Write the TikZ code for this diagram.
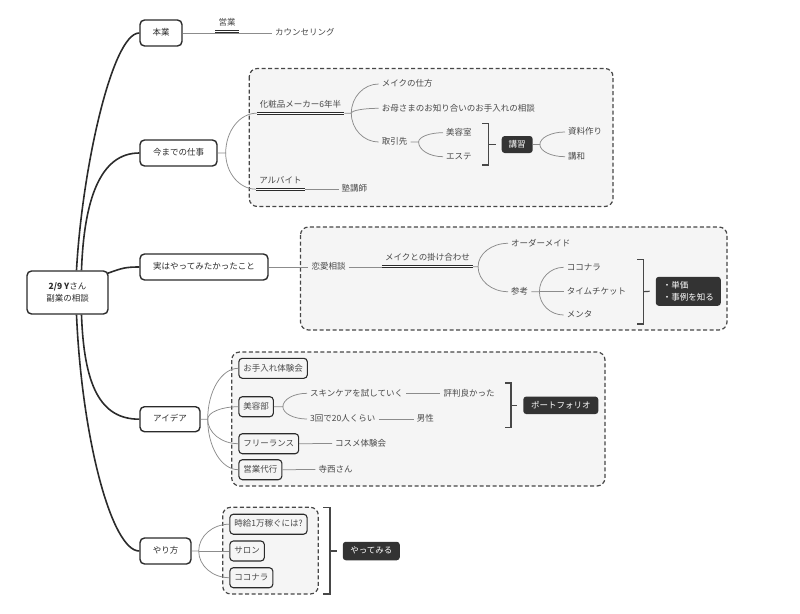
\documentclass[tikz,border=0pt]{standalone}
\usepackage{fontspec}
\newfontfamily\cjk{Noto Sans CJK JP}
\usetikzlibrary{calc}
\definecolor{tcol}{HTML}{2B2B2B}
\definecolor{scol}{HTML}{484848}
\definecolor{lcol}{HTML}{8C8C8C}
\definecolor{gfill}{HTML}{F5F5F5}
\definecolor{gline}{HTML}{474747}
\definecolor{dcol}{HTML}{333333}
\begin{document}
\begin{tikzpicture}[x=1pt,y=-1pt,
 every node/.style={font=\cjk\fontsize{8.5}{10}\selectfont},
 topic/.style={draw=tcol, line width=1.4pt, rounded corners=4.5pt, fill=white, text=tcol, minimum height=26pt, inner sep=0pt, text height=7pt, text depth=1.5pt},
 rootbox/.style={draw=tcol, line width=1.4pt, rounded corners=4.5pt, fill=white, text=tcol, inner sep=0pt, align=center, font=\cjk\fontsize{8.5}{12.5}\selectfont},
 sub/.style={text=scol, inner xsep=3pt, inner ysep=1pt, text height=7pt, text depth=1.5pt},
 subbox/.style={draw=tcol, line width=1.1pt, rounded corners=3.5pt, fill=gfill, text=scol, minimum height=20pt, inner xsep=4.5pt, inner ysep=0pt, text height=7pt, text depth=1.5pt, anchor=west},
 dark/.style={fill=dcol, text=white, rounded corners=3pt, inner sep=0pt, text height=7pt, text depth=1.5pt},
 darkm/.style={fill=dcol, text=white, rounded corners=3pt, inner ysep=0pt, inner xsep=7pt, align=left, font=\cjk\fontsize{8.5}{12.5}\selectfont},
 grp/.style={draw=gline, line width=1.2pt, dash pattern=on 4pt off 2.5pt, rounded corners=8pt, fill=gfill},
 conn/.style={draw=lcol, line width=0.75pt},
 forkc/.style={to path={.. controls ($(\tikztostart)!0.55!(\tikztostart |- \tikztotarget)$) and ($(\tikztotarget)!0.55!(\tikztostart |- \tikztotarget)$) .. (\tikztotarget)}},
 mainc/.style={draw=tcol, line width=1.6pt},
 brk/.style={draw=gline, line width=1.2pt},
 uline/.style={draw=tcol, line width=1pt, double=white, double distance=1pt},
]
\useasboundingbox (0,0) rectangle (800,613);
% group boxes
\path[grp] (249.3,68.5) rectangle (613,206.5);
\path[grp] (300.5,227) rectangle (727,330);
\path[grp] (231.7,352) rectangle (605,486);
\path[grp] (222.7,507.3) rectangle (318.3,594);

% root and topics
\node[rootbox, minimum width=81pt, minimum height=43pt] (root) at (67.5,292.5) {{\bfseries 2/9 Y}さん\\副業の相談};
\node[topic, minimum width=42pt] (honbu) at (161,33) {本業};
\node[topic, minimum width=77pt] (ima) at (178.5,153) {今までの仕事};
\node[topic, minimum width=128pt] (jitsu) at (204,267) {実はやってみたかったこと};
\node[topic, minimum width=60pt, minimum height=25pt] (idea) at (170,419.2) {アイデア};
\node[topic, minimum width=51pt] (yari) at (165.5,551) {やり方};

\draw[mainc] ($(root.north)+(9,0)$) .. controls (82,170) and (112,33) .. (honbu.west);
\draw[mainc] ($(root.north)+(14,0)$) .. controls (84,200) and (100,153) .. (ima.west);
\draw[mainc] ($(root.north east)+(-1,3)$) .. controls (122,268) and (126,267) .. (jitsu.west);
\draw[mainc] ($(root.south)+(14,0)$) .. controls (84,385) and (100,419.2) .. (idea.west);
\draw[mainc] ($(root.south)+(9,0)$) .. controls (82,440) and (112,551) .. (yari.west);

% 本業
\node[sub] (eigyo) at (227,23) {営業};
\node[sub, anchor=west] (counsel) at (272,33) {カウンセリング};
\draw[conn] (honbu.east) -- (counsel.west);
\draw[uline] ($(eigyo.south west)+(0,3.25)$) -- ($(eigyo.south east)+(0,3.25)$);

% 今までの仕事
\node[sub] (kesho) at (300.5,104.5) {化粧品メーカー6年半};
\coordinate (kL) at ($(kesho.south west)+(0,3.25)$);
\coordinate (kR) at ($(kesho.south east)+(0,3.25)$);
\node[sub] (arub) at (280.5,180.5) {アルバイト};
\coordinate (aL) at ($(arub.south west)+(0,3.25)$);
\coordinate (aR) at ($(arub.south east)+(0,3.25)$);
\node[sub, anchor=west] (juku) at (338.5,189) {塾講師};
\coordinate (f1) at ($(ima.east)+(8,0)$);
\draw[conn] (ima.east) -- (f1) to[forkc] (kL);
\draw[conn] (f1) to[forkc] (aL);
\draw[conn] (aR) -- (aR -| juku.west);

\coordinate (f2) at ($(kR)+(7,0)$);
\node[sub, anchor=west] (make) at (378.7,84) {メイクの仕方};
\node[sub, anchor=west] (okaa) at (378.7,108.3) {お母さまのお知り合いのお手入れの相談};
\node[sub, anchor=west] (tori) at (378.7,142) {取引先};
\draw[conn] (kR) -- (f2) to[forkc] (make.west);
\draw[conn] (f2) to[forkc] (okaa.west);
\draw[conn] (f2) to[forkc] (tori.west);
\draw[uline] (kL) -- (kR);
\draw[uline] (aL) -- (aR);

\coordinate (f3) at ($(tori.east)+(8,0)$);
\node[sub, anchor=west] (biyo) at (443,132.7) {美容室};
\node[sub, anchor=west] (este) at (443,156.7) {エステ};
\draw[conn] (tori.east) -- (f3) to[forkc] (biyo.west);
\draw[conn] (f3) to[forkc] (este.west);

\coordinate (b1a) at (482,123.5);
\coordinate (b1m) at (488.5,144.5);
\coordinate (b1b) at (482,165);
\draw[brk] (b1a) -- (b1a -| b1m) -- (b1b -| b1m) -- (b1b);
\node[dark, minimum width=31pt, minimum height=17pt] (kou) at (517.2,144.5) {講習};
\draw[brk] (b1m) -- ($(kou.west)+(-6,0)$);
\coordinate (f4) at ($(kou.east)+(7,0)$);
\node[sub, anchor=west] (shiryo) at (565,132) {資料作り};
\node[sub, anchor=west] (kowa) at (565,156.7) {講和};
\draw[conn] (kou.east) -- (f4) to[forkc] (shiryo.west);
\draw[conn] (f4) to[forkc] (kowa.west);

% 実はやってみたかったこと
\node[sub] (renai) at (328.5,267) {恋愛相談};
\draw[conn] (jitsu.east) -- (renai.west);
\node[sub] (mkake) at (427.5,258) {メイクとの掛け合わせ};
\coordinate (mL) at ($(mkake.south west)+(0,3.25)$);
\coordinate (mR) at ($(mkake.south east)+(0,3.25)$);
\draw[conn] (renai.east) -- (renai.east -| mL);
\coordinate (f5) at ($(mR)+(5,0)$);
\node[sub, anchor=west] (order) at (508,243.3) {オーダーメイド};
\node[sub, anchor=west] (sanko) at (508,291.7) {参考};
\draw[conn] (mR) -- (f5) to[forkc] (order.west);
\draw[conn] (f5) to[forkc] (sanko.west);
\draw[uline] (mL) -- (mR);

\coordinate (f6) at ($(sanko.east)+(8,0)$);
\node[sub, anchor=west] (kokon) at (563.7,267.3) {ココナラ};
\node[sub, anchor=west] (timet) at (563.7,291.7) {タイムチケット};
\node[sub, anchor=west] (menta) at (563.7,315) {メンタ};
\draw[conn] (sanko.east) -- (f6) to[forkc] (kokon.west);
\draw[conn] (f6) -- (timet.west);
\draw[conn] (f6) to[forkc] (menta.west);

\coordinate (b2a) at (637,259.5);
\coordinate (b2m) at (643.3,291.7);
\coordinate (b2b) at (637,324);
\draw[brk] (b2a) -- (b2a -| b2m) -- (b2b -| b2m) -- (b2b);
\node[darkm, minimum width=65pt, minimum height=29pt] (tanka) at (688.3,291.3) {・単価\\・事例を知る};
\draw[brk] (b2m) -- ($(tanka.west)+(-6,0)$);

% アイデア
\coordinate (f7) at ($(idea.east)+(7,0)$);
\node[subbox] (otei) at (238.3,368.3) {お手入れ体験会};
\node[subbox] (biyb) at (238.3,406.7) {美容部};
\node[subbox] (free) at (238.3,443.7) {フリーランス};
\node[subbox] (eidai) at (238.3,469.7) {営業代行};
\draw[conn] (idea.east) -- (f7) to[forkc] (otei.west);
\draw[conn] (f7) to[forkc] (biyb.west);
\draw[conn] (f7) to[forkc] (free.west);
\draw[conn] (f7) to[forkc] (eidai.west);

\coordinate (f8) at ($(biyb.east)+(9,0)$);
\node[sub, anchor=west] (skin) at (307,393.3) {スキンケアを試していく};
\node[sub, anchor=west] (sankai) at (307,419) {3回で20人くらい};
\draw[conn] (biyb.east) -- (f8) to[forkc] (skin.west);
\draw[conn] (f8) to[forkc] (sankai.west);
\node[sub, anchor=west] (hyou) at (440.3,393.3) {評判良かった};
\node[sub, anchor=west] (dans) at (413.7,419) {男性};
\draw[conn] (skin.east) -- (hyou.west);
\draw[conn] (sankai.east) -- (dans.west);

\coordinate (b3a) at (505,383);
\coordinate (b3m) at (511,405.3);
\coordinate (b3b) at (505,427.3);
\draw[brk] (b3a) -- (b3a -| b3m) -- (b3b -| b3m) -- (b3b);
\node[dark, minimum width=75pt, minimum height=17.5pt] (port) at (560.8,405.3) {ポートフォリオ};
\draw[brk] (b3m) -- ($(port.west)+(-6,0)$);

\node[sub, anchor=west] (cosme) at (332,443.5) {コスメ体験会};
\draw[conn] (free.east) -- (cosme.west);
\node[sub, anchor=west] (tera) at (315.3,469.5) {寺西さん};
\draw[conn] (eidai.east) -- (tera.west);

% やり方
\coordinate (f9) at ($(yari.east)+(7,0)$);
\node[subbox] (jikyu) at (229.3,524.2) {時給1万稼ぐには?};
\node[subbox] (salon) at (229.3,551) {サロン};
\node[subbox] (kokon2) at (229.3,577.7) {ココナラ};
\draw[conn] (yari.east) -- (f9) to[forkc] (jikyu.west);
\draw[conn] (f9) -- (salon.west);
\draw[conn] (f9) to[forkc] (kokon2.west);

\coordinate (b4a) at (323.3,507.5);
\coordinate (b4m) at (330,551);
\coordinate (b4b) at (323.3,594);
\draw[brk] (b4a) -- (b4a -| b4m) -- (b4b -| b4m) -- (b4b);
\node[dark, minimum width=57pt, minimum height=18.5pt] (yatte) at (371.3,551) {やってみる};
\draw[brk] (b4m) -- ($(yatte.west)+(-6,0)$);
\end{tikzpicture}
\end{document}
